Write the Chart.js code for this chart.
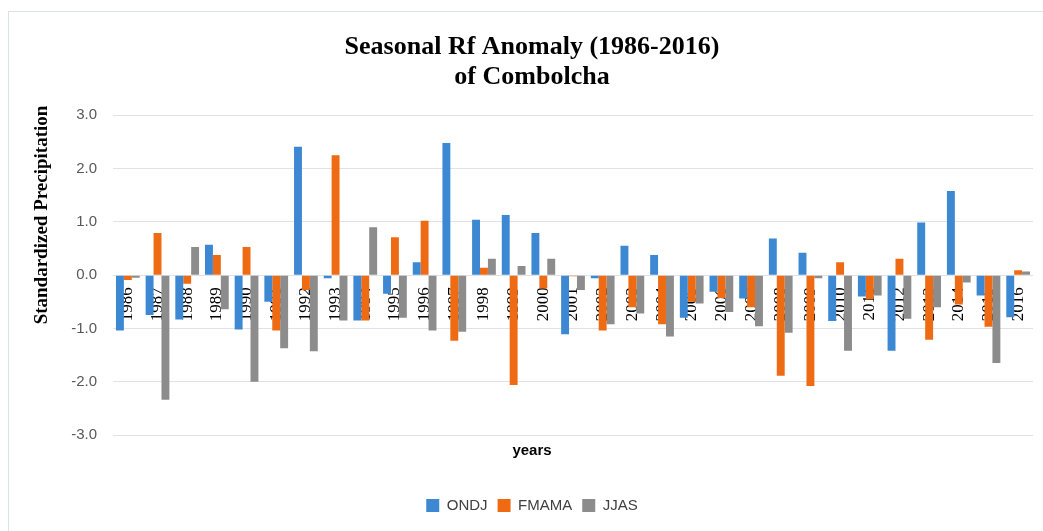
<!DOCTYPE html>
<html>
<head>
<meta charset="utf-8">
<script src="https://cdn.jsdelivr.net/npm/chart.js@4"></script>
<style>
  body { margin: 0; background: #fff; }
  .frame { position: absolute; left: 8px; top: 11px; width: 1100px; height: 600px;
           border-left: 1px solid #dde1e8; border-top: 1px solid #dde1e8; }
  .wrap { position: absolute; left: 0; top: 0; width: 1043px; height: 531px; }
</style>
</head>
<body>
<div class="frame"></div>
<div class="wrap"><canvas id="anomaly" width="1043" height="531"></canvas></div>
<script>
const years = ['1986','1987','1988','1989','1990','1991','1992','1993','1994','1995','1996',
  '1997','1998','1999','2000','2001','2002','2003','2004','2005','2006','2007','2008','2009',
  '2010','2011','2012','2013','2014','2015','2016'];

const ondj = [-1.04, -0.75, -0.83, 0.57, -1.02, -0.50, 2.41, -0.06, -0.85, -0.35, 0.24,
  2.48, 1.04, 1.13, 0.79, -1.11, -0.06, 0.55, 0.38, -0.80, -0.31, -0.44, 0.69, 0.42,
  -0.86, -0.40, -1.42, 0.99, 1.58, -0.38, -0.79];

const fmama = [-0.09, 0.79, -0.16, 0.38, 0.53, -1.04, -0.28, 2.25, -0.85, 0.71, 1.02,
  -1.23, 0.14, -2.06, -0.25, -0.02, -1.04, -0.60, -0.92, -0.50, -0.43, -0.60, -1.89, -2.08,
  0.24, -0.45, 0.31, -1.21, -0.55, -0.97, 0.09];

const jjas = [-0.05, -2.34, 0.53, -0.64, -2.00, -1.37, -1.43, -0.85, 0.90, -0.80, -1.04,
  -1.06, 0.31, 0.17, 0.31, -0.28, -0.92, -0.72, -1.15, -0.53, -0.69, -0.96, -1.08, -0.06,
  -1.42, -0.38, -0.82, -0.60, -0.14, -1.65, 0.07];

const yTitle = 'Standardized Precipitation';

// y axis title sits above the plot centre in the original, so draw it by hand
const yTitlePlugin = {
  id: 'yTitle',
  afterDraw(chart) {
    const ctx = chart.ctx;
    ctx.save();
    ctx.translate(42, 215);
    ctx.rotate(-Math.PI / 2);
    ctx.font = 'bold 19px "Liberation Serif"';
    ctx.fillStyle = '#000';
    ctx.textAlign = 'center';
    ctx.textBaseline = 'middle';
    ctx.fillText(yTitle, 0, 0);
    ctx.restore();
  }
};

new Chart(document.getElementById('anomaly'), {
  type: 'bar',
  data: {
    labels: years,
    datasets: [
      { label: 'ONDJ', data: ondj, backgroundColor: '#3d88d2' },
      { label: 'FMAMA', data: fmama, backgroundColor: '#ee6b13' },
      { label: 'JJAS', data: jjas, backgroundColor: '#8c8c8c' }
    ]
  },
  options: {
    responsive: false,
    animation: false,
    layout: { padding: { left: 31, right: 10, top: 0, bottom: 8 } },
    datasets: { bar: { categoryPercentage: 0.8, barPercentage: 1.0 } },
    plugins: {
      title: {
        display: true,
        text: ['Seasonal Rf Anomaly (1986-2016)', 'of Combolcha'],
        font: { family: '"Liberation Serif"', size: 26, weight: 'bold', lineHeight: 1.16 },
        color: '#000',
        padding: { top: 32, bottom: 23 }
      },
      subtitle: {
        display: true,
        position: 'bottom',
        weight: 500,
        text: 'years',
        font: { family: '"Liberation Sans"', size: 15, weight: 'bold' },
        color: '#000',
        padding: { top: 7, bottom: 28 }
      },
      legend: {
        position: 'bottom',
        labels: {
          boxWidth: 13,
          boxHeight: 13,
          padding: 10,
          color: '#404040',
          font: { family: '"Liberation Sans"', size: 15 }
        }
      },
      tooltip: { enabled: false }
    },
    scales: {
      x: {
        position: { y: 0 },
        z: 1,
        afterFit(scale) { scale.paddingLeft = 0; scale.paddingRight = 0; },
        grid: { display: false, drawTicks: false },
        border: { display: false },
        ticks: {
          autoSkip: false,
          minRotation: 90,
          maxRotation: 90,
          padding: 12,
          color: '#000',
          font: { family: '"Liberation Serif"', size: 17 }
        }
      },
      y: {
        min: -3,
        max: 3,
        afterFit(scale) { scale.width = 82; },
        grid: { color: '#dfe2e8', drawTicks: false },
        border: { display: false },
        ticks: {
          stepSize: 1,
          padding: 16,
          color: '#595959',
          font: { family: '"Liberation Sans"', size: 15 },
          callback: v => v.toFixed(1)
        }
      }
    }
  },
  plugins: [yTitlePlugin]
});
</script>
</body>
</html>
